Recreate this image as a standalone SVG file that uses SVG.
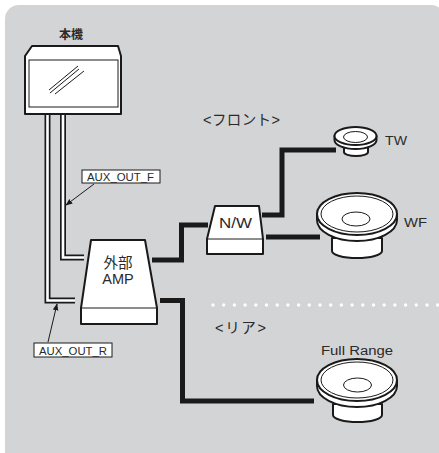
<svg xmlns="http://www.w3.org/2000/svg" width="439" height="453" viewBox="0 0 439 453">
<defs>
<style>
.bg{fill:#d3d4d6}
.box{fill:#fff;stroke:#1a1a1a;stroke-width:2;stroke-linejoin:round}
.thin{fill:none;stroke:#1a1a1a;stroke-width:1}
.wire{fill:none;stroke:#1a1a1a;stroke-width:5;stroke-linejoin:miter}
.cab{fill:none;stroke:#1a1a1a;stroke-width:6}
.cabw{fill:none;stroke:#fff;stroke-width:2.6}
.lbl{fill:#fff;stroke:#1a1a1a;stroke-width:1}
.t{font-family:"Liberation Sans","Noto Sans CJK JP",sans-serif;fill:#2a2a2a}
.ar{stroke:#1a1a1a;stroke-width:1;fill:none}
</style>
<marker id="ah" viewBox="0 0 10 10" refX="9" refY="5" markerWidth="7" markerHeight="7" orient="auto" markerUnits="userSpaceOnUse">
<path d="M0,1 L10,5 L0,9 Z" fill="#1a1a1a"/>
</marker>
</defs>
<rect class="bg" x="5" y="5" width="440" height="470" rx="14"/>

<g id="connectors">
<path class="cab" d="M47.5,114 V300.5 H75"/>
<path class="cabw" d="M47.5,114 V300.5 H75"/>
<path class="cab" d="M63,114 V257.5 H84"/>
<path class="cabw" d="M63,114 V257.5 H84"/>
<path class="wire" d="M152,260 H181.5 V225 H208"/>
<path class="wire" d="M160,300.5 H182.5 V401 H314"/>
<path class="wire" d="M262,215 H282 V150 H336"/>
<path class="wire" d="M266,237 H320"/>
<line x1="213" y1="305" x2="439" y2="305" stroke="#fff" stroke-width="3.4" stroke-linecap="round" stroke-dasharray="0 10.7"/>
<line class="ar" x1="94" y1="184" x2="66" y2="205" marker-end="url(#ah)"/>
<line class="ar" x1="48" y1="342" x2="57" y2="304" marker-end="url(#ah)"/>
</g>

<g id="head-unit">
<text class="t" x="71" y="39" font-size="12" font-weight="bold" text-anchor="middle">本機</text>
<path class="box" d="M32,46 H118 L121,56 V114 H25 V56 Z"/>
<rect class="thin" x="29" y="60" width="89" height="47" fill="#fff"/>
<line class="thin" x1="49" y1="90" x2="78" y2="66" stroke-width="0.9"/>
<line class="thin" x1="50" y1="93" x2="79" y2="69" stroke-width="0.9"/>
<line class="thin" x1="55" y1="94" x2="84" y2="71" stroke-width="0.9"/>
</g>

<g id="aux-out-f">
<rect class="lbl" x="82" y="170" width="78" height="13"/>
<text class="t" x="87" y="181" font-size="10.5" textLength="67" lengthAdjust="spacingAndGlyphs">AUX_OUT_F</text>
</g>

<g id="aux-out-r">
<rect class="lbl" x="34" y="343" width="78" height="14"/>
<text class="t" x="39" y="354.5" font-size="10.5" textLength="68" lengthAdjust="spacingAndGlyphs">AUX_OUT_R</text>
</g>

<g id="amp">
<path class="box" d="M91,240 H145 L157,308 V324 H81 V308 Z"/>
<line class="thin" x1="81" y1="308" x2="157" y2="308" stroke-width="1.2"/>
<text class="t" x="118" y="268" font-size="14.5" text-anchor="middle">外部</text>
<text class="t" x="118" y="283.5" font-size="14.5" text-anchor="middle">AMP</text>
</g>

<g id="nw">
<path class="box" d="M215,206 H259 L263,239 V254 H207 V239 Z"/>
<line class="thin" x1="207" y1="239" x2="263" y2="239" stroke-width="1.2"/>
<text class="t" x="219" y="228" font-size="15" textLength="33" lengthAdjust="spacingAndGlyphs">N/W</text>
</g>

<text class="t" x="203" y="125" font-size="14.5" textLength="77" lengthAdjust="spacing">&lt;フロント&gt;</text>
<text class="t" x="215" y="333" font-size="14.5" textLength="51" lengthAdjust="spacing">&lt;リア&gt;</text>

<g id="tw">
<path class="box" d="M344,146 V152 A12,4 0 0 0 368,152 V146 Z"/>
<path class="box" d="M334.5,136 V140 A21,9 0 0 0 376.5,140 V136 Z"/>
<ellipse class="box" cx="355.5" cy="136" rx="21" ry="9"/>
<ellipse class="thin" cx="355.5" cy="137" rx="12" ry="5.5" stroke-width="1.4"/>
<text class="t" x="385" y="145" font-size="13" textLength="22" lengthAdjust="spacingAndGlyphs">TW</text>
</g>

<g id="wf">
<path class="box" d="M332,238 V251 A25,7 0 0 0 382,251 V238 Z"/>
<path class="box" d="M317,214 V220 A40,21 0 0 0 397,220 V214 Z"/>
<ellipse class="box" cx="357" cy="214" rx="40" ry="21"/>
<ellipse class="thin" cx="357" cy="214" rx="36" ry="18" stroke-width="0.8"/>
<ellipse class="thin" cx="356" cy="219" rx="14" ry="7" stroke-width="1.3"/>
<text class="t" x="404" y="227" font-size="13" textLength="23" lengthAdjust="spacingAndGlyphs">WF</text>
</g>

<g id="full-range">
<path class="box" d="M333,404 V415 A24.5,7 0 0 0 382,415 V404 Z"/>
<path class="box" d="M317,380 V386 A40,21 0 0 0 397,386 V380 Z"/>
<ellipse class="box" cx="357" cy="380" rx="40" ry="21"/>
<ellipse class="thin" cx="357" cy="380" rx="36" ry="18" stroke-width="0.8"/>
<ellipse class="thin" cx="357.5" cy="385" rx="14" ry="7" stroke-width="1.3"/>
<text class="t" x="321" y="355" font-size="12.5" textLength="72" lengthAdjust="spacingAndGlyphs">Full Range</text>
</g>
</svg>
